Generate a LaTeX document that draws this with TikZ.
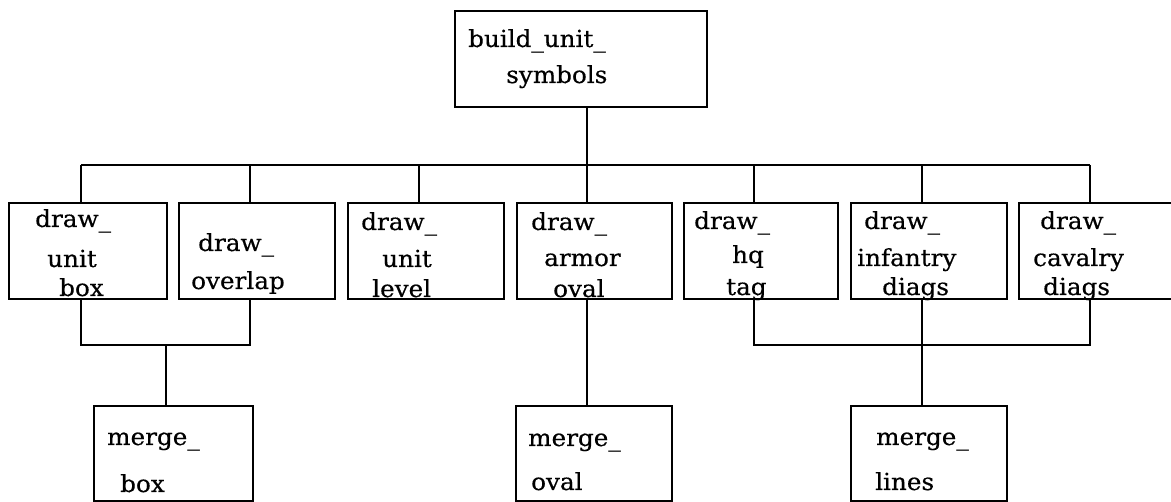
\documentclass[tikz,border=0pt]{standalone}
\usepackage{fontspec}
\setmainfont[FakeStretch=1.05,FakeBold=0.4]{DejaVu Serif}
\begin{document}
\begin{tikzpicture}[x=1pt,y=-1pt,
  box/.style={draw, line width=1.8pt, inner sep=0pt, anchor=north west},
  conn/.style={line width=1.8pt},
  lbl/.style={anchor=base west, inner sep=0pt, font=\fontsize{23.5}{28}\selectfont}]
\useasboundingbox (0,0) rectangle (1171,502);
% boxes
\node[box, minimum width=252pt, minimum height=96pt] (top) at (454,10) {};
\node[box, minimum width=158pt, minimum height=96pt] (b1) at (8,202) {};
\node[box, minimum width=156pt, minimum height=96pt] (b2) at (178,202) {};
\node[box, minimum width=156pt, minimum height=96pt] (b3) at (347,202) {};
\node[box, minimum width=155pt, minimum height=96pt] (b4) at (516,202) {};
\node[box, minimum width=154pt, minimum height=96pt] (b5) at (683,202) {};
\node[box, minimum width=156pt, minimum height=96pt] (b6) at (850,202) {};
\node[box, minimum width=160pt, minimum height=96pt] (b7) at (1018,202) {};
\node[box, minimum width=159pt, minimum height=95pt] (mb) at (93,405) {};
\node[box, minimum width=156pt, minimum height=95pt] (mo) at (515,405) {};
\node[box, minimum width=156pt, minimum height=95pt] (ml) at (850,405) {};
% labels
\node[lbl] (t1) at (468,47) {build\_unit\_};
\node[lbl] (t2) at (506,83) {symbols};
\node[lbl] (l1a) at (35,227) {draw\_};
\node[lbl] (l1b) at (47,267) {unit};
\node[lbl] (l1c) at (59,296) {box};
\node[lbl] (l2a) at (198,251) {draw\_};
\node[lbl] (l2b) at (191,289) {overlap};
\node[lbl] (l3a) at (361,230) {draw\_};
\node[lbl] (l3b) at (382,267) {unit};
\node[lbl] (l3c) at (372,297) {level};
\node[lbl] (l4a) at (531,230) {draw\_};
\node[lbl] (l4b) at (544,266) {armor};
\node[lbl] (l4c) at (553,297) {oval};
\node[lbl] (l5a) at (694,229) {draw\_};
\node[lbl] (l5b) at (732,263) {hq};
\node[lbl] (l5c) at (726,295) {tag};
\node[lbl] (l6a) at (864,229) {draw\_};
\node[lbl] (l6b) at (857,266) {infantry};
\node[lbl] (l6c) at (882,295) {diags};
\node[lbl] (l7a) at (1040,229) {draw\_};
\node[lbl] (l7b) at (1033,266) {cavalry};
\node[lbl] (l7c) at (1043,295) {diags};
\node[lbl] (m1a) at (107,445) {merge\_};
\node[lbl] (m1b) at (120,492) {box};
\node[lbl] (m2a) at (528,446) {merge\_};
\node[lbl] (m2b) at (531,490) {oval};
\node[lbl] (m3a) at (876,445) {merge\_};
\node[lbl] (m3b) at (875,490) {lines};
% bus coordinates
\coordinate (k1) at (81,165);
\coordinate (k2) at (250,165);
\coordinate (k3) at (419,165);
\coordinate (k4) at (587,165);
\coordinate (k5) at (754,165);
\coordinate (k6) at (922,165);
\coordinate (k7) at (1090,165);
\coordinate (ja) at (166,345);
\coordinate (jb) at (922,345);
% connectors
\draw[conn] (k1) -- (k7);
\draw[conn] (top.south -| k4) -- (k4);
\foreach \i in {1,...,7} { \draw[conn] (k\i) -- (k\i |- b\i.north); }
\draw[conn] (k1 |- b1.south) -- (k1 |- ja) -- (k2 |- ja) -- (k2 |- b2.south);
\draw[conn] (ja) -- (ja |- mb.north);
\draw[conn] (k4 |- b4.south) -- (k4 |- mo.north);
\draw[conn] (k5 |- b5.south) -- (k5 |- jb) -- (k7 |- jb) -- (k7 |- b7.south);
\draw[conn] (k6 |- b6.south) -- (k6 |- ml.north);
\end{tikzpicture}
\end{document}
